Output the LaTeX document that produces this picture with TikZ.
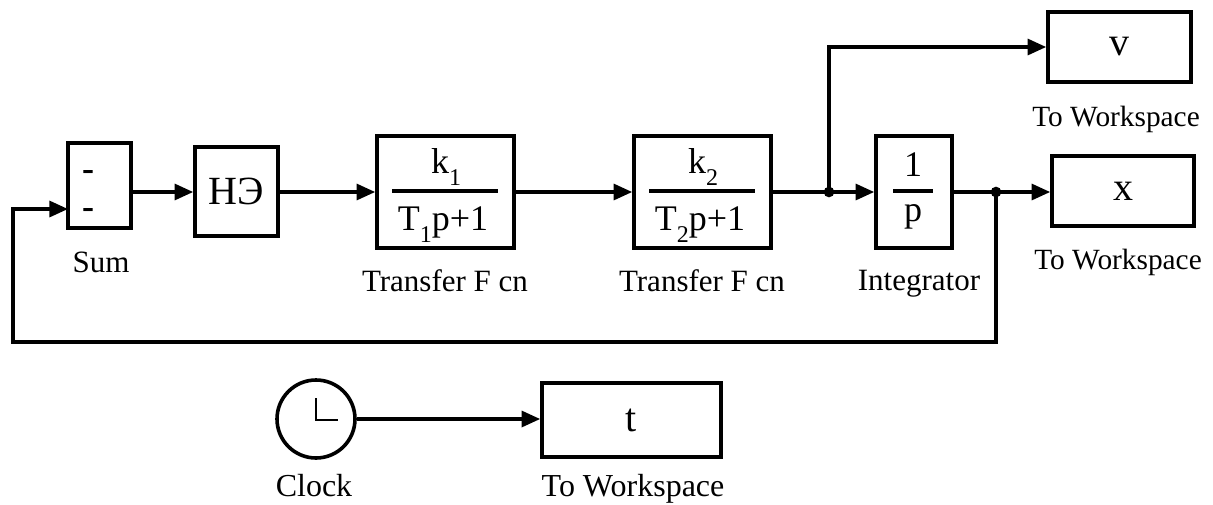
\documentclass[tikz,border=0pt]{standalone}
\usepackage{fontspec}
\setmainfont{Liberation Serif}
\usetikzlibrary{arrows.meta,calc}
\newcommand\lowsub[1]{\raisebox{-9pt}{\fontsize{18pt}{21pt}\selectfont #1}}
\begin{document}
\begin{tikzpicture}[x=0.75pt,y=-0.75pt,
  blk/.style={draw,line width=2.7pt,rectangle,inner sep=0pt,font=\fontsize{30pt}{36pt}\selectfont},
  wire/.style={line width=2.5pt},
  arr/.style={wire,-{Triangle[length=14pt,width=12pt]}},
  lbl/.style={inner sep=0pt,anchor=base,font=\fontsize{23.25pt}{28pt}\selectfont},
  lbls/.style={lbl,font=\fontsize{22pt}{26pt}\selectfont},
  lblb/.style={lbl,font=\fontsize{24pt}{29pt}\selectfont},
  frac/.style={inner sep=0pt,anchor=base,font=\fontsize{27pt}{32pt}\selectfont},
  sgn/.style={inner sep=0pt,anchor=base,font=\bfseries\fontsize{27pt}{32pt}\selectfont},
  jdot/.style={circle,fill,inner sep=0pt,minimum size=8pt}]
\useasboundingbox (0,0) rectangle (1213,504);

% blocks
\node[blk,minimum width=47.25pt,minimum height=63.75pt] (sum) at (99.5,185.5) {};
\node[sgn] (m1) at (88,180) {-};
\node[sgn] (m2) at (88,218) {-};
\node[lbl] (sumlbl) at (101,272) {Sum};

\node[blk,minimum width=62.25pt,minimum height=66.75pt] (ne) at (236.5,191.5) {НЭ};

\node[blk,minimum width=102.75pt,minimum height=84pt] (tf1) at (445.5,192) {};
\node[frac] (n1) at (446,173) {k\lowsub{1}};
\node[frac] (d1) at (443,230) {T\lowsub{1}p+1};
\draw[wire] (392,191) -- (498,191);
\node[lbl] (tf1lbl) at (445,291) {Transfer F cn};

\node[blk,minimum width=102.75pt,minimum height=84pt] (tf2) at (702.5,192) {};
\node[frac] (n2) at (703,173) {k\lowsub{2}};
\node[frac] (d2) at (700,230) {T\lowsub{2}p+1};
\draw[wire] (649,191) -- (755,191);
\node[lbl] (tf2lbl) at (702,291) {Transfer F cn};

\node[blk,minimum width=57pt,minimum height=84pt] (integ) at (914,192) {};
\node[frac] (n3) at (913,176) {1};
\node[frac] (d3) at (913,221) {p};
\draw[wire] (893,191) -- (933,191);
\node[lbl] (intlbl) at (919,290) {Integrator};

\node[blk,minimum width=107.25pt,minimum height=52.5pt] (vb) at (1119.5,47) {v};
\node[lbls] (vlbl) at (1116,126) {To Workspace};

\node[blk,minimum width=106.5pt,minimum height=52.5pt] (xb) at (1123,191) {x};
\node[lbls] (xlbl) at (1118,269) {To Workspace};

\node[blk,circle,minimum size=58.5pt] (clk) at (316,419) {};
\draw[line width=2pt] (316,398) -- (316,420) -- (338,420);
\node[lblb] (clklbl) at (314,496) {Clock};

\node[blk,minimum width=134.25pt,minimum height=55.5pt] (tb) at (631.5,420) {t};
\node[lblb] (tlbl) at (633,496) {To Workspace};

% junctions
\coordinate (j1) at (829,192);
\coordinate (j2) at (996,192);
\coordinate (fbr) at (996,342);
\coordinate (fbl) at (13,342);
\coordinate (fbu) at (13,209);
\coordinate (sumin) at (68,209);
\coordinate (sumout) at (131,192);

% connectors
\draw[arr] (sumout) -- (ne.west |- sumout);
\draw[arr] (ne.east |- tf1.west) -- (tf1.west);
\draw[arr] (tf1.east) -- (tf2.west);
\draw[wire] (tf2.east) -- (j1);
\draw[arr] (j1) -- (integ.west);
\draw[arr] (j1) -- (j1 |- vb.west) -- (vb.west);
\draw[wire] (integ.east) -- (j2);
\draw[arr] (j2) -- (xb.west |- j2);
\draw[arr] (j2) -- (fbr) -- (fbl) -- (fbu) -- (sumin);
\draw[arr] (clk.east) -- (tb.west |- clk.east);
\node[jdot] at (j1) {};
\node[jdot] at (j2) {};
\end{tikzpicture}
\end{document}
